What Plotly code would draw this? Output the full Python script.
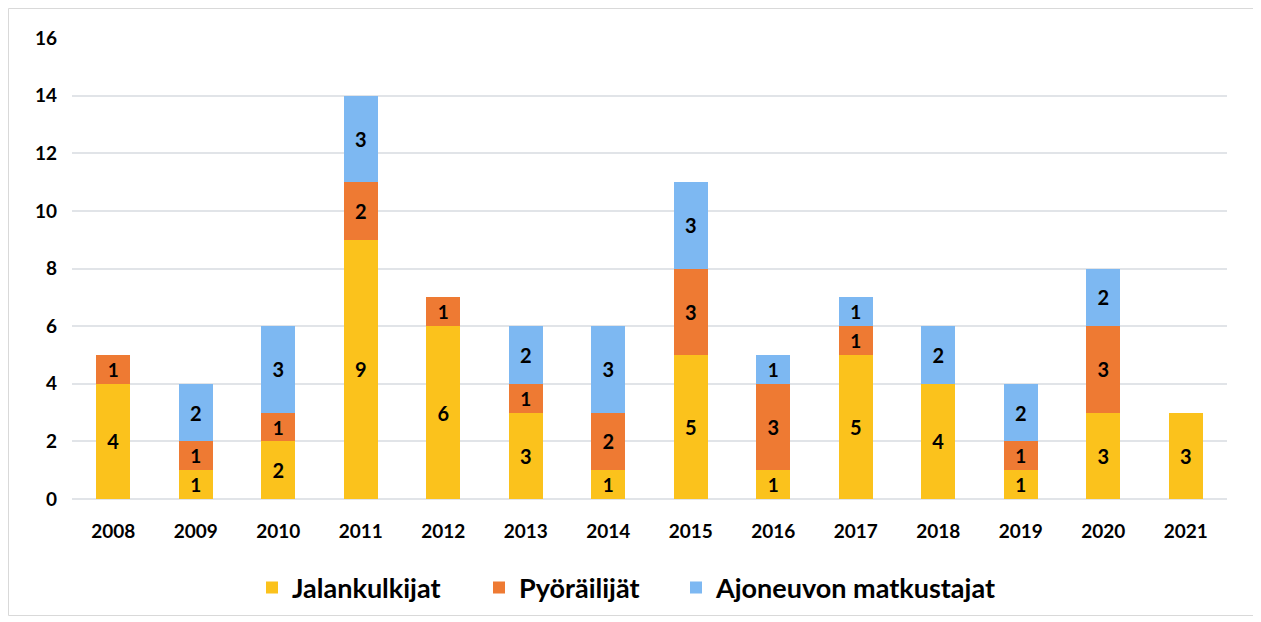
import plotly.graph_objects as go

years = ["2008", "2009", "2010", "2011", "2012", "2013", "2014",
         "2015", "2016", "2017", "2018", "2019", "2020", "2021"]
jalankulkijat = [4, 1, 2, 9, 6, 3, 1, 5, 1, 5, 4, 1, 3, 3]
pyorailijat = [1, 1, 1, 2, 1, 1, 2, 3, 3, 1, 0, 1, 3, 0]
ajoneuvon = [0, 2, 3, 3, 0, 2, 3, 3, 1, 1, 2, 2, 2, 0]
y_ticks = [0, 2, 4, 6, 8, 10, 12, 14, 16]

series = [
    ("Jalankulkijat", jalankulkijat, "#FBC21C", "legend"),
    ("Pyöräilijät", pyorailijat, "#EE7A33", "legend2"),
    ("Ajoneuvon matkustajat", ajoneuvon, "#7DB8F2", "legend3"),
]

FONT = "Lato"
fig = go.Figure()
for name, vals, color, leg in series:
    fig.add_trace(go.Bar(
        x=years, y=vals, name=name, legend=leg,
        marker=dict(color=color, line=dict(width=0)),
        text=[str(v) if v else "" for v in vals],
        textposition="inside", insidetextanchor="middle", textangle=0,
        textfont=dict(family=FONT, size=20, color="black", weight="bold"),
        width=0.41,
        hoverinfo="x+y+name",
    ))

# page body has an 8px margin: figure-space = screen - 8
OFF = 8
W, H = 1261, 622
L, R, T, B = 72 - OFF, W - (1227 - OFF), 38 - OFF, H - (499 - OFF)
pw, ph = W - L - R, H - T - B

def px_x(p):
    return (p - OFF - L) / pw

def px_y(p):
    return (H - B - (p - OFF)) / ph

def leg(xpx):
    return dict(orientation="h", x=px_x(xpx), xanchor="left",
                y=px_y(588), yanchor="middle", bgcolor="rgba(0,0,0,0)",
                font=dict(family=FONT, size=27, color="black", weight="bold"),
                itemwidth=30)

fig.update_layout(
    barmode="stack",
    width=W, height=H,
    margin=dict(l=L, r=R, t=T, b=B),
    paper_bgcolor="white", plot_bgcolor="white",
    font=dict(family=FONT, color="black", weight="bold"),
    showlegend=True,
    legend=leg(252), legend2=leg(479), legend3=leg(676),
    xaxis=dict(type="category", showgrid=False, showline=False, ticks="",
               tickfont=dict(family=FONT, size=19, color="black", weight="bold"),
               ticklabelstandoff=19),
    yaxis=dict(range=[0, 16], tickvals=y_ticks, showgrid=True,
               gridcolor="#E1E4E8", gridwidth=2, zeroline=True,
               zerolinecolor="#E1E4E8", zerolinewidth=2, showline=False,
               tickfont=dict(family=FONT, size=19, color="black", weight="bold"),
               ticklabelstandoff=14),
    shapes=[dict(type="rect", xref="paper", yref="paper",
                 x0=px_x(8.5), x1=px_x(1255.5), y0=px_y(615.5), y1=px_y(8.5),
                 line=dict(color="#D9D9D9", width=1), layer="below")],
)

fig.write_html("out.html")
